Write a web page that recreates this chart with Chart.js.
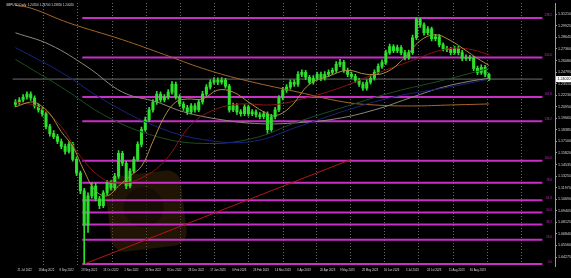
<!DOCTYPE html>
<html>
<head>
<meta charset="utf-8">
<script src="https://cdn.jsdelivr.net/npm/chart.js@4.4.1/dist/chart.umd.min.js"></script>
<style>
  html, body { margin: 0; padding: 0; background: #000; }
  canvas { display: block; background: #000; }
</style>
</head>
<body>
<canvas id="chart" width="571" height="278"></canvas>
<script>
// GBPUSD daily (one candle here ~ two trading days)
const title = 'GBPUSD,Daily  1.24550 1.24700 1.23850 1.24020';

const dateLabels = ['21 Jul 2022', '18 Aug 2022', '8 Sep 2022', '28 Sep 2022', '13 Oct 2022', '1 Nov 2022',
  '20 Nov 2022', '8 Dec 2022', '28 Dec 2022', '17 Jan 2023', '6 Feb 2023', '23 Feb 2023', '14 Mar 2023',
  '3 Apr 2023', '20 Apr 2023', '9 May 2023', '28 May 2023', '16 Jun 2023', '5 Jul 2023', '24 Jul 2023',
  '11 Aug 2023', '30 Aug 2023'];
const dateIdx = [0.5, 6, 11.5, 17.25, 23, 28.5, 34, 39.75, 45.25, 51, 56.75, 62.25, 68, 73.75, 79.75,
  85, 90.75, 96.5, 102.25, 107.75, 113.5, 119];
const gridIdx = [10.25, 19.5, 28.75, 38, 47, 56.25, 65.5, 74.75, 83.75, 93, 102, 111.25, 120.5, 129.75];

const priceTicks = [1.31210, 1.29925, 1.28645, 1.27360, 1.26080, 1.24795, 1.23515, 1.22230, 1.20950,
  1.19665, 1.18385, 1.17100, 1.15820, 1.14535, 1.13255, 1.11970, 1.10690, 1.09405, 1.08125, 1.06840,
  1.05560, 1.04275];

const firstOpen = 1.2120;
const closes = [
  1.2148, 1.2170, 1.2203, 1.2236, 1.2192, 1.2104, 1.2060, 1.2017, 1.1874, 1.1797,
  1.1764, 1.1710, 1.1655, 1.1600, 1.1677, 1.1512, 1.1359, 1.1161, 1.0778, 1.1107,
  1.1216, 1.1074, 1.0997, 1.1139, 1.1249, 1.1194, 1.1326, 1.1578, 1.1468, 1.1216,
  1.1381, 1.1512, 1.1677, 1.1841, 1.1951, 1.2060, 1.2148, 1.2236, 1.2170, 1.2203,
  1.2258, 1.2345, 1.2203, 1.2126, 1.2082, 1.2039, 1.2104, 1.2060, 1.2148, 1.2236,
  1.2313, 1.2367, 1.2389, 1.2367, 1.2389, 1.2324, 1.2060, 1.2104, 1.2039, 1.2017,
  1.2093, 1.2017, 1.2039, 1.2006, 1.1984, 1.2017, 1.1841, 1.1984, 1.2060, 1.2192,
  1.2280, 1.2313, 1.2367, 1.2345, 1.2455, 1.2477, 1.2422, 1.2367, 1.2411, 1.2455,
  1.2411, 1.2455, 1.2477, 1.2499, 1.2565, 1.2587, 1.2499, 1.2455, 1.2433, 1.2389,
  1.2345, 1.2302, 1.2367, 1.2411, 1.2477, 1.2543, 1.2587, 1.2696, 1.2762, 1.2718,
  1.2751, 1.2696, 1.2642, 1.2696, 1.2861, 1.3069, 1.3003, 1.2916, 1.2959, 1.2850,
  1.2872, 1.2784, 1.2740, 1.2729, 1.2696, 1.2740, 1.2696, 1.2631, 1.2642, 1.2631,
  1.2521, 1.2477, 1.2532, 1.2455, 1.2402];
const highs = [
  1.2175, 1.2198, 1.2230, 1.2262, 1.2260, 1.2215, 1.2128, 1.2085, 1.2040, 1.1900,
  1.1830, 1.1790, 1.1735, 1.1680, 1.1705, 1.1700, 1.1540, 1.1380, 1.1190, 1.1140,
  1.1250, 1.1245, 1.1100, 1.1165, 1.1280, 1.1275, 1.1355, 1.1610, 1.1600, 1.1490,
  1.1410, 1.1540, 1.1705, 1.1870, 1.1980, 1.2090, 1.2175, 1.2265, 1.2260, 1.2230,
  1.2285, 1.2375, 1.2370, 1.2230, 1.2150, 1.2110, 1.2130, 1.2130, 1.2175, 1.2265,
  1.2340, 1.2395, 1.2420, 1.2415, 1.2418, 1.2410, 1.2345, 1.2135, 1.2130, 1.2065,
  1.2120, 1.2115, 1.2065, 1.2060, 1.2030, 1.2045, 1.2040, 1.2010, 1.2090, 1.2220,
  1.2310, 1.2340, 1.2395, 1.2395, 1.2485, 1.2505, 1.2500, 1.2445, 1.2440, 1.2480,
  1.2480, 1.2485, 1.2505, 1.2525, 1.2595, 1.2620, 1.2610, 1.2525, 1.2480, 1.2455,
  1.2410, 1.2370, 1.2395, 1.2440, 1.2505, 1.2570, 1.2615, 1.2725, 1.2790, 1.2785,
  1.2780, 1.2775, 1.2720, 1.2725, 1.2890, 1.3085, 1.3080, 1.3025, 1.2985, 1.2980,
  1.2900, 1.2895, 1.2805, 1.2765, 1.2755, 1.2765, 1.2765, 1.2720, 1.2670, 1.2665,
  1.2655, 1.2545, 1.2560, 1.2555, 1.2470];
const lows = [
  1.2095, 1.2120, 1.2148, 1.2180, 1.2165, 1.2080, 1.2035, 1.1990, 1.1850, 1.1770,
  1.1740, 1.1685, 1.1630, 1.1570, 1.1580, 1.1490, 1.1330, 1.1130, 1.0350, 1.0700,
  1.1080, 1.1050, 1.0965, 1.0975, 1.1120, 1.1170, 1.1170, 1.1300, 1.1440, 1.1185,
  1.1195, 1.1360, 1.1490, 1.1650, 1.1820, 1.1930, 1.2035, 1.2120, 1.2145, 1.2150,
  1.2180, 1.2235, 1.2180, 1.2100, 1.2055, 1.2010, 1.2015, 1.2035, 1.2040, 1.2125,
  1.2215, 1.2290, 1.2345, 1.2340, 1.2345, 1.2300, 1.2035, 1.2040, 1.2010, 1.1990,
  1.1995, 1.1990, 1.1995, 1.1980, 1.1960, 1.1960, 1.1800, 1.1820, 1.1960, 1.2040,
  1.2170, 1.2255, 1.2290, 1.2320, 1.2320, 1.2430, 1.2395, 1.2345, 1.2345, 1.2390,
  1.2385, 1.2390, 1.2430, 1.2455, 1.2475, 1.2540, 1.2475, 1.2430, 1.2410, 1.2365,
  1.2320, 1.2275, 1.2280, 1.2345, 1.2390, 1.2455, 1.2520, 1.2565, 1.2675, 1.2695,
  1.2695, 1.2670, 1.2615, 1.2620, 1.2675, 1.2840, 1.2975, 1.2890, 1.2895, 1.2825,
  1.2825, 1.2760, 1.2715, 1.2705, 1.2670, 1.2675, 1.2670, 1.2605, 1.2610, 1.2605,
  1.2495, 1.2450, 1.2455, 1.2430, 1.2385];

// moving averages, sampled at a few bars each
const maFastIdx = [0, 4, 6, 9, 12, 15, 18, 21, 24, 27, 30, 33, 36, 39, 42, 45, 49, 53, 57, 61, 65, 68,
  72, 77, 82, 87, 92, 97, 102, 106, 110, 114, 118, 121, 124];
const maFast = [1.2093, 1.2148, 1.2126, 1.2017, 1.1819, 1.1655, 1.1381, 1.1161, 1.1107, 1.1216, 1.1326,
  1.1435, 1.1710, 1.1984, 1.2148, 1.2181, 1.2181, 1.2280, 1.2258, 1.2148, 1.2039, 1.1995, 1.2093, 1.2345,
  1.2433, 1.2499, 1.2455, 1.2477, 1.2642, 1.2828, 1.2894, 1.2828, 1.2718, 1.2631, 1.2554];
const maRedIdx = [0, 6, 12, 17, 23, 28, 33, 39, 46, 52, 59, 67, 74, 84, 94, 104, 112, 118, 124];
const maRed = [1.2148, 1.2093, 1.1874, 1.1545, 1.1293, 1.1249, 1.1304, 1.1490, 1.1896, 1.2060, 1.2126,
  1.2115, 1.2170, 1.2291, 1.2455, 1.2609, 1.2729, 1.2740, 1.2674];
const maBlueIdx = [0, 12, 24, 37, 49, 62, 74, 87, 99, 112, 124];
const maBlue = [1.2751, 1.2477, 1.2148, 1.1874, 1.1732, 1.1710, 1.1874, 1.2060, 1.2203, 1.2302, 1.2400];
const maGreenIdx = [0, 12, 24, 37, 49, 62, 74, 87, 99, 112, 124];
const maGreen = [1.2620, 1.2313, 1.1984, 1.1764, 1.1688, 1.1742, 1.1929, 1.2104, 1.2258, 1.2389, 1.2521];
const maGrayIdx = [0, 9, 19, 28, 37, 44, 54, 64, 74, 84, 94, 104, 112, 119, 124];
const maGray = [1.2916, 1.2784, 1.2532, 1.2258, 1.2148, 1.2039, 1.1951, 1.1907, 1.1918, 1.1962, 1.2060,
  1.2203, 1.2313, 1.2378, 1.2410];
const maLongIdx = [0, 4, 14, 28, 39, 49, 59, 74, 86, 94, 104, 114, 124];
const maLong = [1.3220, 1.3190, 1.3025, 1.2839, 1.2674, 1.2521, 1.2400, 1.2258, 1.2148, 1.2115, 1.2104,
  1.2115, 1.2126];

const trendIdx = [18, 88];
const trendVals = [1.0350, 1.1512];

const fibLabels = ['238.2', '200.0', '161.8', '138.2', '100.0', '78.6', '61.8', '50.0', '38.2', '23.6', '0.0'];
const fibLevels = [1.3080, 1.2642, 1.2204, 1.1934, 1.1496, 1.1251, 1.1058, 1.0923, 1.0788, 1.0620, 1.0350];
const fibStart = 17.5;

const X_MIN = -0.75, X_MAX = 138;
const Y_MIN = 1.03281, Y_MAX = 1.32445;
const FONT = 'Liberation Sans';

const opens = closes.map((c, i) => i === 0 ? firstOpen : closes[i - 1]);
const lastPrice = closes[closes.length - 1];

function pts(idx, vals) {
  return idx.map((x, k) => ({ x, y: vals[k] }));
}

function maLine(idx, vals, color) {
  return {
    type: 'line', data: pts(idx, vals), borderColor: color, borderWidth: 1,
    pointRadius: 0, tension: 0.4, order: 1
  };
}

const fibSets = fibLevels.map(v => ({
  type: 'line', data: [{ x: fibStart, y: v }, { x: X_MAX, y: v }],
  borderColor: '#c72fc7', borderWidth: 2, pointRadius: 0, order: 4
}));

const overlay = {
  id: 'overlay',
  beforeDatasetsDraw(chart) {
    const ctx = chart.ctx;
    ctx.save();
    // faint broker watermark
    ctx.translate(146, 211);
    ctx.rotate(-0.12);
    ctx.fillStyle = 'rgba(70,44,12,0.45)';
    ctx.beginPath();
    ctx.roundRect(-38, -38, 76, 76, 14);
    ctx.fill();
    ctx.fillStyle = 'rgba(12,8,3,0.55)';
    ctx.beginPath();
    ctx.arc(-2, -4, 20, 0, Math.PI * 2);
    ctx.fill();
    ctx.restore();
  },
  afterDraw(chart) {
    const ctx = chart.ctx;
    const ys = chart.scales.y;
    const area = chart.chartArea;
    ctx.save();
    ctx.textBaseline = 'alphabetic';
    ctx.fillStyle = '#c72fc7';
    ctx.font = '3px ' + FONT;
    ctx.textAlign = 'right';
    fibLevels.forEach((v, k) => {
      ctx.fillText(fibLabels[k], area.right - 3, ys.getPixelForValue(v) - 1.5);
    });
    // current price box on the axis
    const py = ys.getPixelForValue(lastPrice);
    ctx.fillStyle = '#fff';
    ctx.fillRect(area.right + 1, py - 3, 16, 6);
    ctx.fillStyle = '#000';
    ctx.textAlign = 'left';
    ctx.textBaseline = 'middle';
    ctx.font = '3.6px ' + FONT;
    ctx.fillText(lastPrice.toFixed(5), area.right + 2.5, py + 0.3);
    // symbol caption
    ctx.fillStyle = '#ddd';
    ctx.font = '3px ' + FONT;
    ctx.fillText(title, 6, 5);
    ctx.restore();
  }
};

new Chart(document.getElementById('chart'), {
  type: 'bar',
  data: {
    datasets: [
      maLine(maFastIdx, maFast, '#b08c40'),
      maLine(maRedIdx, maRed, '#8c1212'),
      maLine(maBlueIdx, maBlue, '#18237e'),
      maLine(maGreenIdx, maGreen, '#1c4d20'),
      maLine(maGrayIdx, maGray, '#8e887c'),
      maLine(maLongIdx, maLong, '#a4662a'),
      {
        type: 'line', data: pts(trendIdx, trendVals), borderColor: '#b01818',
        borderWidth: 1, pointRadius: 0, order: 3
      },
      {
        type: 'line', data: [{ x: X_MIN, y: lastPrice }, { x: X_MAX, y: lastPrice }],
        borderColor: '#6e6e6e', borderWidth: 1, pointRadius: 0, order: 3
      },
      {
        data: closes.map((c, i) => ({ x: i, y: [opens[i], c] })),
        backgroundColor: '#2ee02e', barThickness: 2.4, minBarLength: 1, order: 2
      },
      {
        data: highs.map((h, i) => ({ x: i, y: [lows[i], h] })),
        backgroundColor: '#2ee02e', barThickness: 1, order: 2
      },
      ...fibSets
    ]
  },
  options: {
    responsive: false,
    devicePixelRatio: 1,
    animation: false,
    events: [],
    layout: { padding: 0 },
    datasets: { bar: { grouped: false } },
    plugins: { legend: { display: false }, tooltip: { enabled: false } },
    scales: {
      x: {
        type: 'linear', position: 'bottom', min: X_MIN, max: X_MAX,
        grid: { display: false, drawTicks: false },
        border: { display: false },
        ticks: {
          color: '#d8d8d8', font: { size: 2.8, family: FONT }, autoSkip: false,
          maxRotation: 0, align: 'start', padding: 3,
          callback: (v, i) => dateLabels[i]
        },
        afterBuildTicks: s => { s.ticks = dateIdx.map(v => ({ value: v })); },
        afterFit: s => { s.height = 12; }
      },
      xg: {
        type: 'linear', position: 'top', min: X_MIN, max: X_MAX,
        grid: { color: '#6a6a6a', lineWidth: 1, drawTicks: false },
        border: { display: false, dash: [1, 2] },
        ticks: { display: false },
        afterBuildTicks: s => { s.ticks = gridIdx.map(v => ({ value: v })); },
        afterFit: s => { s.height = 0; }
      },
      y: {
        type: 'linear', position: 'right', min: Y_MIN, max: Y_MAX,
        grid: { display: true, drawOnChartArea: false, tickLength: 2, color: '#999' },
        border: { display: true, color: '#999' },
        ticks: {
          color: '#d8d8d8', font: { size: 3.6, family: FONT }, autoSkip: false, padding: 1,
          callback: v => v.toFixed(5)
        },
        afterBuildTicks: s => { s.ticks = priceTicks.map(v => ({ value: v })); },
        afterFit: s => { s.width = 16; }
      }
    }
  },
  plugins: [overlay]
});
</script>
</body>
</html>
